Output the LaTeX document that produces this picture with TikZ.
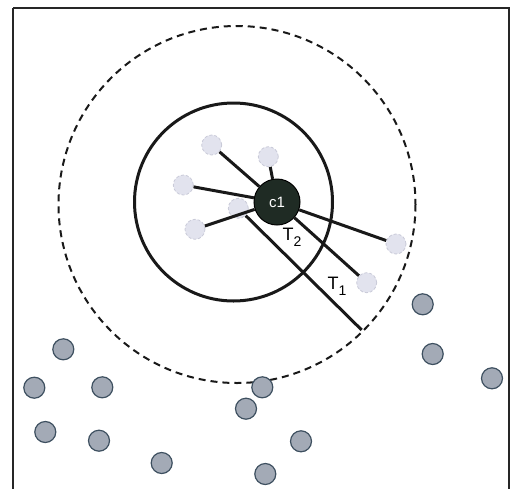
\documentclass[tikz,border=0pt]{standalone}
\usepackage{fontspec}
\setmainfont{Liberation Sans}
\definecolor{darkfill}{HTML}{A3AAB6}
\definecolor{darkedge}{HTML}{3E5060}
\definecolor{lightfill}{HTML}{E2E3EE}
\definecolor{lightedge}{HTML}{C9CAD8}
\definecolor{cfill}{HTML}{1F2B24}
\newcommand{\mysub}[1]{\raisebox{-0.35em}{\fontsize{14}{16}\selectfont #1}}
\begin{document}
\begin{tikzpicture}[x=1pt,y=-1pt,
  light/.style={circle,minimum size=20pt,inner sep=0pt,fill=lightfill,draw=lightedge,densely dashed,line width=0.8pt},
  dark/.style={circle,minimum size=21pt,inner sep=0pt,fill=darkfill,draw=darkedge,line width=1.2pt},
  link/.style={line width=3pt,black!90},
  lbl/.style={font=\fontsize{18}{20}\selectfont,inner sep=0pt}]
\useasboundingbox (0,0) rectangle (517,488);
\draw[line width=2pt,black!85] (13,8) -- (509,8) -- (509,492) (13,8) -- (13,492);
\draw[line width=2pt,black!90,dash pattern=on 7pt off 5pt] (237,204.5) circle (178.5);
\draw[line width=3pt,black!90] (233.5,202) circle (99);
% light nodes
\node[light] (A) at (211.7,145) {};
\node[light] (B) at (268.3,156.7) {};
\node[light] (C) at (183.3,185) {};
\node[light] (D) at (238.3,208.3) {};
\node[light] (E) at (195,229.3) {};
\node[light] (F) at (396,244) {};
\node[light] (G) at (366.7,282.7) {};
% center node
\node[circle,minimum size=46pt,inner sep=0pt,fill=cfill,draw=black,line width=1pt,text=white,font=\fontsize{15}{17}\selectfont] (c1) at (277,202) {c1};
\coordinate (T1end) at (361.7,330);
\draw[link] (A) -- (c1);
\draw[link] (B) -- (c1);
\draw[link] (C) -- (c1);
\draw[link] (E) -- (c1);
\draw[link] (c1) -- (F);
\draw[link] (c1) -- (G);
\draw[link] (D) -- (T1end);
\node[lbl] (T2) at (292,237) {T\mysub{2}};
\node[lbl] (T1) at (337,286) {T\mysub{1}};
% dark nodes
\node[dark] (n1) at (422.7,304.3) {};
\node[dark] (n2) at (432.7,354) {};
\node[dark] (n3) at (492,378.3) {};
\node[dark] (n4) at (63.3,349.3) {};
\node[dark] (n5) at (34.3,387.7) {};
\node[dark] (n6) at (102.3,387.3) {};
\node[dark] (n7) at (262.3,387.3) {};
\node[dark] (n8) at (246,408.7) {};
\node[dark] (n9) at (45.3,432) {};
\node[dark] (n10) at (99,440.7) {};
\node[dark] (n11) at (161.7,463) {};
\node[dark] (n12) at (301,441.3) {};
\node[dark] (n13) at (265.3,474) {};
\end{tikzpicture}
\end{document}
